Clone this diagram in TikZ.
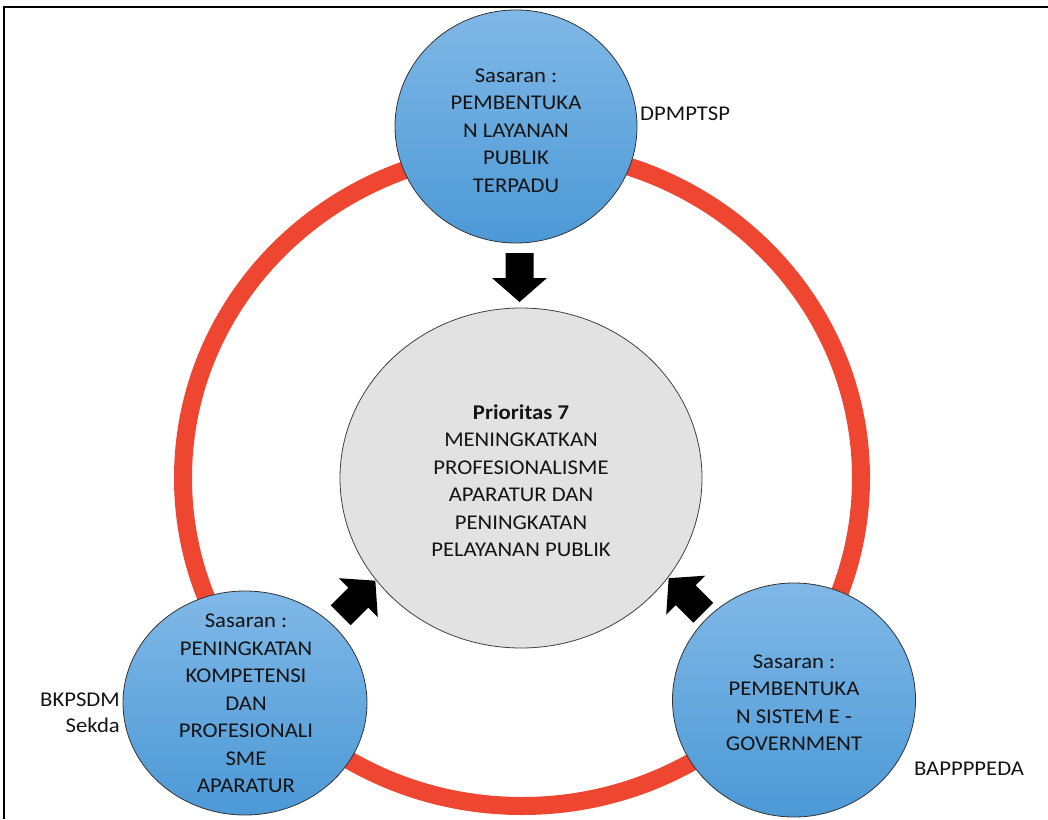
\documentclass[tikz,border=0pt]{standalone}
\usepackage{fontspec}
\setmainfont{Carlito}[FakeStretch=1.08]
\usetikzlibrary{shapes.geometric}
\definecolor{ringred}{RGB}{238,70,48}
\definecolor{bluetop}{RGB}{128,184,231}
\definecolor{bluebot}{RGB}{76,153,214}
\definecolor{centgray}{RGB}{226,226,226}
\tikzset{
  sasaran/.style={ellipse, draw=black!80, line width=0.8pt, top color=bluetop, bottom color=bluebot, inner sep=0pt},
  prior/.style={ellipse, draw=black!75, line width=0.8pt, fill=centgray, inner sep=0pt},
  lbl/.style={font=\fontsize{21}{27.5}\selectfont, align=center, inner sep=0pt, text=black!92},
  side/.style={font=\fontsize{21}{26}\selectfont, inner sep=0pt, text=black!92},
  blockarrow/.pic={\fill[black] (-14,-24.5) -- (14,-24.5) -- (14,0.5) -- (27.5,0.5) -- (0,24.5) -- (-27.5,0.5) -- (-14,0.5) -- cycle;}
}
\begin{document}
\begin{tikzpicture}[x=1pt,y=-1pt]
\useasboundingbox (0,0) rectangle (1048,819);
% frame
\draw[line width=2pt] (4,819) -- (4,7) -- (1048,7);
% ring
\draw[ringred, line width=18pt] (522,478) ellipse [x radius=339pt, y radius=328pt];
% centre
\node[prior, minimum width=362pt, minimum height=340pt] (pc) at (521,478) {};
\node[lbl] (tc) at (521,480.5) {\textbf{Prioritas 7}\\MENINGKATKAN\\PROFESIONALISME\\APARATUR DAN\\PENINGKATAN\\PELAYANAN PUBLIK};
% top
\node[sasaran, minimum width=242pt, minimum height=233pt] (st) at (516,126.5) {};
\node[lbl] (tt) at (516,130.5) {Sasaran :\\PEMBENTUKA\\N LAYANAN\\PUBLIK\\TERPADU};
% bottom left
\node[sasaran, minimum width=244pt, minimum height=224pt] (sl) at (245,703) {};
\node[lbl] (tl) at (246,703.5) {Sasaran :\\PENINGKATAN\\KOMPETENSI\\DAN\\PROFESIONALI\\SME\\APARATUR};
% bottom right
\node[sasaran, minimum width=243pt, minimum height=234pt] (sr) at (794,700) {};
\node[lbl] (tr) at (794,702.5) {Sasaran :\\PEMBENTUKA\\N SISTEM E -\\GOVERNMENT};
% side labels
\node[side, anchor=west] (ld) at (640,113.5) {DPMPTSP};
\node[side, anchor=east, align=right] (lb) at (120,713) {BKPSDM\\Sekda};
\node[side] (lp) at (969,768.5) {BAPPPPEDA};
% arrows
\pic at (519.5,277.5) {blockarrow};
\pic[rotate=135] at (358,598) {blockarrow};
\pic[rotate=225] at (686,595.5) {blockarrow};
\end{tikzpicture}
\end{document}
